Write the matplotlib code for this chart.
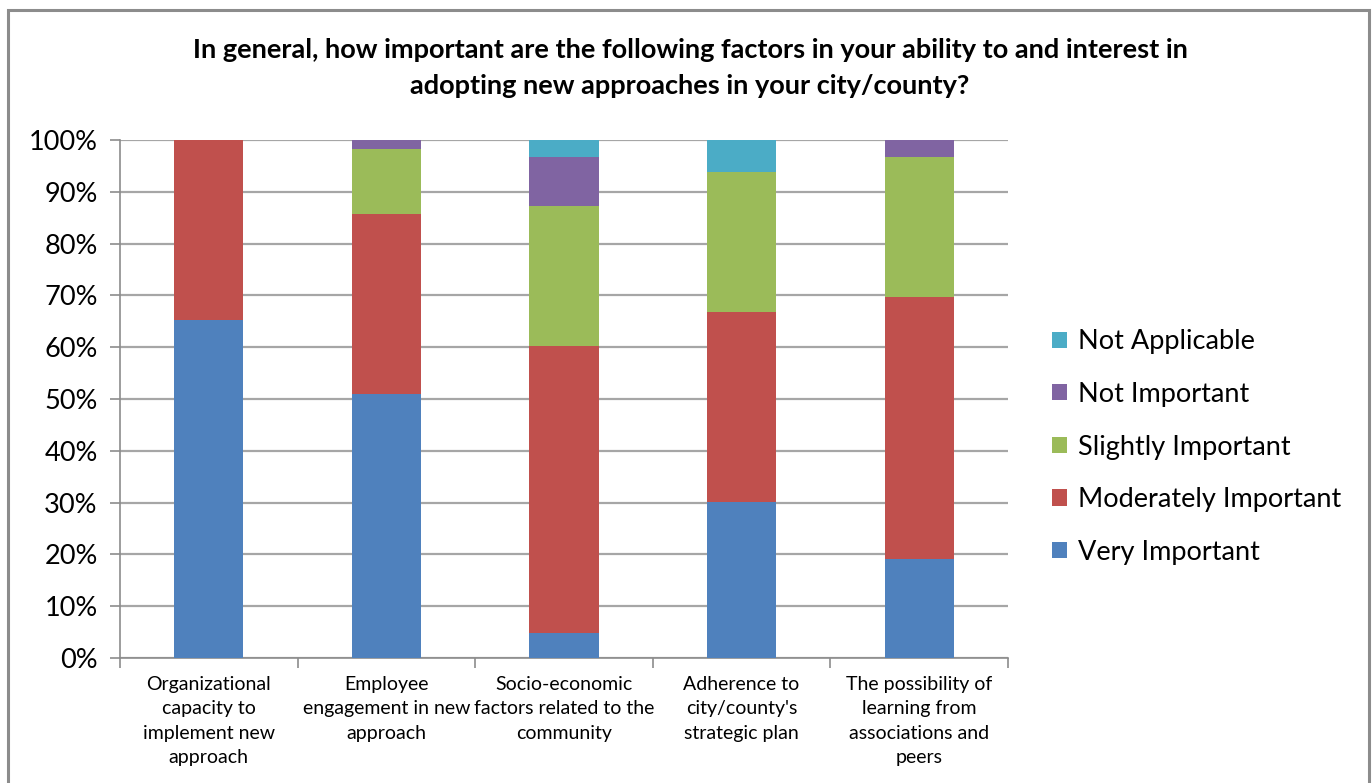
import matplotlib
matplotlib.use("Agg")
import matplotlib.pyplot as plt
from matplotlib.patches import Rectangle
import numpy as np

categories = [
    "Organizational\ncapacity to\nimplement new\napproach",
    "Employee\nengagement in new\napproach",
    "Socio-economic\nfactors related to the\ncommunity",
    "Adherence to\ncity/county's\nstrategic plan",
    "The possibility of\nlearning from\nassociations and\npeers",
]
series_names = ["Very Important", "Moderately Important", "Slightly Important",
                "Not Important", "Not Applicable"]
very_important = [65.2, 51.0, 4.8, 30.1, 19.1]
moderately_important = [34.8, 34.7, 55.4, 36.7, 50.6]
slightly_important = [0.0, 12.6, 27.1, 27.0, 27.0]
not_important = [0.0, 1.7, 9.4, 0.0, 3.3]
not_applicable = [0.0, 0.0, 3.3, 6.2, 0.0]
colors = ["#4f81bd", "#c0504d", "#9bbb59", "#8064a2", "#4bacc6"]
title = ("In general, how important are the following factors in your ability to and interest in\n"
         "adopting new approaches in your city/county?")

plt.rcParams["font.family"] = ["Lato", "DejaVu Sans"]

fig = plt.figure(figsize=(13.72, 7.83), dpi=100)
W, H = 1372, 783
ax = fig.add_axes([120 / W, 1 - 658 / H, (1008 - 120) / W, (658 - 140) / H])

# Outer chart frame
fig.patches.append(Rectangle((8 / W, -0.05), (1369 - 8) / W, 1 - 10 / H + 0.05,
                             transform=fig.transFigure, fill=False,
                             edgecolor="#8c8c8c", linewidth=2.2))

x = np.arange(len(categories))
data = [very_important, moderately_important, slightly_important, not_important, not_applicable]
bottom = np.zeros(len(categories))
handles = []
for name, vals, c in zip(series_names, data, colors):
    vals = np.array(vals)
    b = ax.bar(x, vals, width=0.39, bottom=bottom, color=c, label=name,
               edgecolor="none", zorder=3)
    handles.append(b)
    bottom += vals

ax.set_xlim(-0.5, len(categories) - 0.5)
ax.set_ylim(0, 100)
ax.set_yticks(np.arange(0, 101, 10))
ax.set_yticklabels([f"{v}%" for v in range(0, 101, 10)], fontsize=19.5)
ax.yaxis.grid(True, color="#a6a6a6", linewidth=1.6, zorder=0)
ax.set_axisbelow(True)

ax.set_xticks(x)
ax.set_xticklabels(categories, fontsize=14, linespacing=1.52, va="top")
ax.tick_params(axis="x", length=0, pad=13)
ax.set_xticks(np.arange(-0.5, len(categories)), minor=True)
ax.tick_params(axis="x", which="minor", length=7, color="#8c8c8c", width=1.2)
ax.tick_params(axis="y", length=7, color="#8c8c8c", width=1.2, pad=9)

for s in ["top", "right"]:
    ax.spines[s].set_visible(False)
for s in ["left", "bottom"]:
    ax.spines[s].set_color("#8c8c8c")
    ax.spines[s].set_linewidth(1.2)

fig.text(690 / W, 1 - 68 / H, title, ha="center", va="center", fontsize=19.5,
         fontweight="bold", linespacing=1.6)

leg = fig.legend(handles[::-1], series_names[::-1], loc="center left",
                 bbox_to_anchor=(1028 / W, 1 - 447 / H), frameon=False,
                 fontsize=19.5, handlelength=0.55, handleheight=0.55,
                 handletextpad=0.4, labelspacing=1.02)

fig.savefig("out.png", dpi=100)
